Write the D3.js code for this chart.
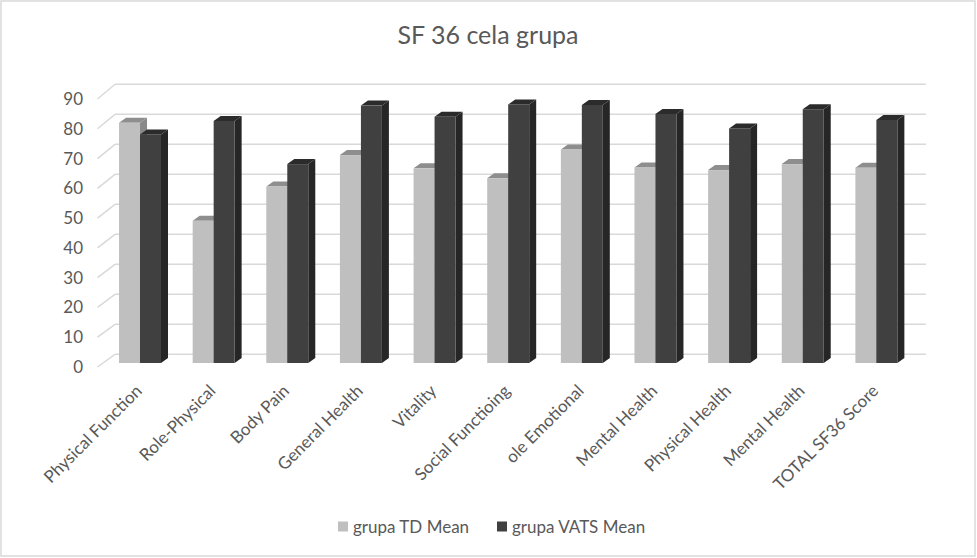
<!DOCTYPE html>
<html>
<head>
<meta charset="utf-8">
<script src="https://cdn.jsdelivr.net/npm/d3@7"></script>
<style>
  html, body { margin: 0; padding: 0; background: #ffffff; }
  svg { display: block; }
  text { font-family: Lato, "Open Sans", sans-serif; fill: #595959; }
</style>
</head>
<body>
<svg id="chart" width="977" height="558"></svg>
<script>
const title = "SF 36 cela grupa";
const categories = ["Physical Function", "Role-Physical", "Body Pain", "General Health", "Vitality",
  "Social Functioing", "ole Emotional", "Mental Health", "Physical Health", "Mental Health", "TOTAL SF36 Score"];
const seriesNames = ["grupa TD Mean", "grupa VATS Mean"];
const tdMean   = [80.1, 47.4, 58.8, 69.3, 64.9, 61.6, 71.2, 65.2, 64.3, 66.3, 65.1];
const vatsMean = [76.2, 80.7, 66.3, 85.8, 82.1, 86.2, 86.0, 83.0, 78.2, 84.6, 81.0];
const yTicks = [0, 10, 20, 30, 40, 50, 60, 70, 80, 90];

const colors = [
  { front: "#bfbfbf", top: "#8e8e8e", side: "#8a8a8a" },
  { front: "#404040", top: "#2b2b2b", side: "#262626" }
];

const svg = d3.select("#chart");
const W = 977, H = 558;

// chart border
svg.append("rect").attr("x", 1).attr("y", 1).attr("width", W - 3).attr("height", H - 3)
  .attr("fill", "#fff").attr("stroke", "#d9d9d9").attr("stroke-width", 1.5);

// depth offsets (3D look)
const dx = 7, dy = 5;
const wallDx = 17.5, wallDy = 8.7;

const x0 = d3.scaleBand().domain(d3.range(categories.length)).range([103.2, 913.2])
  .paddingInner(0.43).paddingOuter(0.215);
const x1 = d3.scaleBand().domain([0, 1]).range([0, x0.bandwidth()]);
const y = d3.scaleLinear().domain([0, 90]).range([363, 93]);
const yLab = d3.scaleLinear().domain([0, 90]).range([367, 99]);

// gridlines on back wall + floor diagonals
const grid = svg.append("g");
yTicks.forEach(v => {
  grid.append("line")
    .attr("x1", 97.5).attr("y1", yLab(v))
    .attr("x2", 97.5 + wallDx).attr("y2", y(v) - wallDy)
    .attr("stroke", "#d9d9d9").attr("stroke-width", 1.5);
  grid.append("line")
    .attr("x1", 97.5 + wallDx).attr("y1", y(v) - wallDy)
    .attr("x2", 926).attr("y2", y(v) - wallDy)
    .attr("stroke", "#d9d9d9").attr("stroke-width", 1.5);
});

// y axis labels
const yAxis = d3.axisLeft(yLab).tickValues(yTicks).tickSize(0).tickPadding(0);
const gy = svg.append("g").attr("transform", "translate(83,0)").call(yAxis);
gy.select(".domain").remove();
gy.selectAll("text").style("font-size", "17px").attr("fill", "#595959")
  .style("font-family", "Lato, 'Open Sans', sans-serif");

// bars
const seriesData = [tdMean, vatsMean];
const bars = svg.append("g");
categories.forEach((c, i) => {
  seriesData.forEach((vals, s) => {
    const v = vals[i];
    const bx = x0(i) + x1(s);
    const w = x1.bandwidth();
    const yt = y(v), yb = y(0);
    const col = colors[s];
    const g = bars.append("g");
    g.append("polygon")
      .attr("points", [[bx + w, yt], [bx + w + dx, yt - dy], [bx + w + dx, yb - dy], [bx + w, yb]].map(p => p.join(",")).join(" "))
      .attr("fill", col.side);
    g.append("polygon")
      .attr("points", [[bx, yt], [bx + dx, yt - dy], [bx + w + dx, yt - dy], [bx + w, yt]].map(p => p.join(",")).join(" "))
      .attr("fill", col.top);
    g.append("rect").attr("x", bx).attr("y", yt).attr("width", w).attr("height", yb - yt)
      .attr("fill", col.front);
  });
});

// x labels
const xl = svg.append("g");
categories.forEach((c, i) => {
  const cx = x0(i) + x0.bandwidth() / 2;
  xl.append("text")
    .attr("transform", `translate(${cx + 3},${392}) rotate(-45)`)
    .attr("text-anchor", "end")
    .style("font-size", "17px")
    .text(c);
});

// title
svg.append("text").attr("x", 488).attr("y", 44).attr("text-anchor", "middle")
  .style("font-size", "25px").text(title);

// legend
const legend = svg.append("g");
const legendX = [338, 497];
seriesNames.forEach((n, s) => {
  legend.append("rect").attr("x", legendX[s]).attr("y", 521.5).attr("width", 10).attr("height", 10)
    .attr("fill", colors[s].front);
  legend.append("text").attr("x", legendX[s] + 15).attr("y", 532.5)
    .style("font-size", "17px").text(n);
});
</script>
</body>
</html>
